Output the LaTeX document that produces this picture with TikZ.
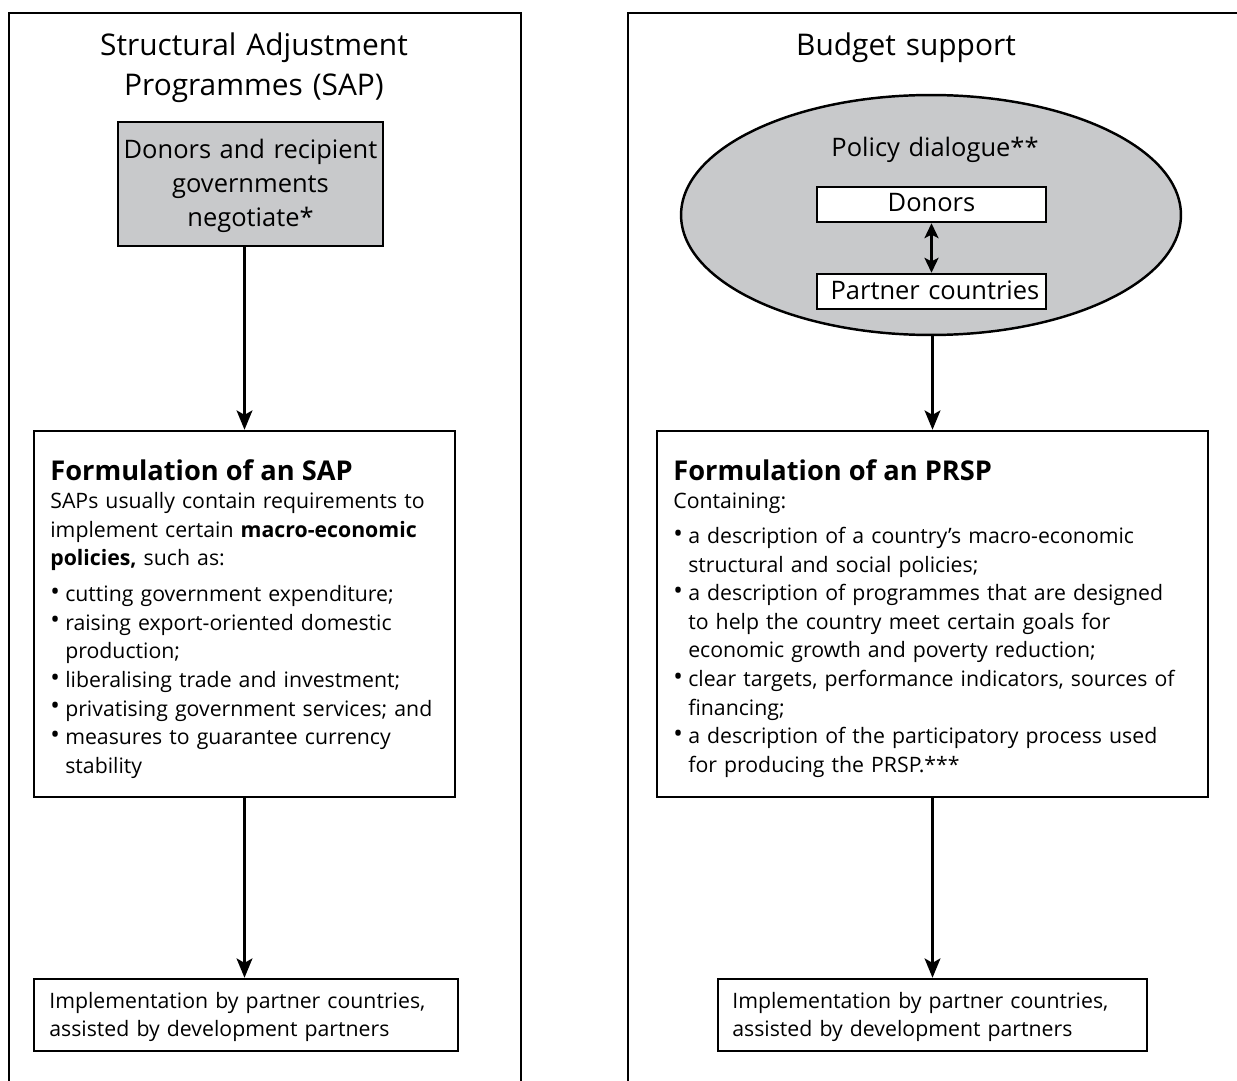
\documentclass[tikz,border=0pt]{standalone}
\usepackage{fontspec}
\setmainfont{Open Sans}
\usetikzlibrary{arrows.meta,shapes.geometric,fit}
\definecolor{shade}{RGB}{200,201,203}
\newcommand{\bodysize}{\fontsize{12.1}{16.3}\selectfont}
\newcommand{\headsize}{\fontsize{15.5}{16.3}\selectfont\bfseries}
\newcommand{\titlesize}{\fontsize{17}{22.7}\selectfont}
\newcommand{\boxsize}{\fontsize{14.5}{19.3}\selectfont}
\newcommand{\bul}{\par\hangindent=8.5pt\hangafter=1\noindent\makebox[8.5pt][l]{\raisebox{0.8pt}{\fontsize{14.5}{16}\selectfont\textbullet}}}
\begin{document}
\begin{tikzpicture}[x=0.02cm,y=-0.02cm,
  frame/.style={line width=1.4pt},
  box/.style={draw,line width=1.4pt,inner sep=0pt},
  txt/.style={inner sep=0pt,text width=12cm,align=left,font=\bodysize,anchor=base west},
  ctxt/.style={inner sep=0pt,text width=10cm,align=center,anchor=base},
  arr/.style={line width=1.4pt,-{Stealth[length=11pt,width=9pt,inset=2.5pt]}},
  twoway/.style={line width=1.4pt,{Stealth[length=8.5pt,width=8pt,inset=2pt]}-{Stealth[length=8.5pt,width=8pt,inset=2pt]}}]
\useasboundingbox (0,0) rectangle (1237,1081);
\draw[frame] (9,1090) -- (9,13) -- (521,13) -- (521,1090);
\draw[frame] (628,1090) -- (628,13) -- (1245,13);
\node[ctxt,font=\titlesize] (saptitle) at (254,56) {Structural Adjustment\\Programmes (SAP)};
\node[ctxt,font=\titlesize] (bstitle) at (906,56) {Budget support};
\node[box,fill=shade,fit={(118,122) (383,246)}] (negotiate) {};
\node[ctxt,font=\boxsize] (negtext) at (250.5,158.5) {Donors and recipient\\governments\\negotiate*};
\node[box,fit={(34,431) (455,797)}] (sapbox) {};
\node[txt] (saptext) at (50,480) {{\headsize Formulation of an SAP\par}
SAPs usually contain requirements to\newline implement certain \textbf{macro-economic}\newline \textbf{policies,} such as:\par\vspace{4pt}
\bul cutting government expenditure;
\bul raising export-oriented domestic\newline production;
\bul liberalising trade and investment;
\bul privatising government services; and
\bul measures to guarantee currency\newline stability\par};
\node[box,fit={(34,979) (458,1051)}] (sapimpl) {};
\node[txt] (sapimpltext) at (49,1008) {Implementation by partner countries,\newline assisted by development partners};
\node[box,ellipse,fill=shade,minimum width=10cm,minimum height=4.8cm] (dialogue) at (931,215) {};
\node[ctxt,font=\boxsize] (dialoguetext) at (935,157) {Policy dialogue**};
\node[box,fill=white,fit={(817,187) (1046,222)}] (donors) {};
\node[ctxt,font=\boxsize] (donorstext) at (931.5,212) {Donors};
\node[box,fill=white,fit={(817,274) (1046,309)}] (partners) {};
\node[ctxt,font=\boxsize] (partnerstext) at (935,299) {Partner countries};
\draw[twoway] (donors) -- (partners);
\node[box,fit={(657,431) (1208,797)}] (prspbox) {};
\node[txt] (prsptext) at (673,480) {{\headsize Formulation of an PRSP\par}
Containing:\par\vspace{3.5pt}
\bul a description of a country's macro-economic\newline structural and social policies;
\bul a description of programmes that are designed\newline to help the country meet certain goals for\newline economic growth and poverty reduction;
\bul clear targets, performance indicators, sources of\newline financing;
\bul a description of the participatory process used\newline for producing the PRSP.***\par};
\node[box,fit={(718,979) (1147,1051)}] (prspimpl) {};
\node[txt] (prspimpltext) at (732,1008) {Implementation by partner countries,\newline assisted by development partners};
\draw[arr] (negotiate.south -| sapbox.north) -- (sapbox.north);
\draw[arr] (sapbox.south) -- (sapbox.south |- sapimpl.north);
\draw[arr] (dialogue.south -| prspbox.north) -- (prspbox.north);
\draw[arr] (prspbox.south) -- (prspbox.south |- prspimpl.north);
\end{tikzpicture}
\end{document}
